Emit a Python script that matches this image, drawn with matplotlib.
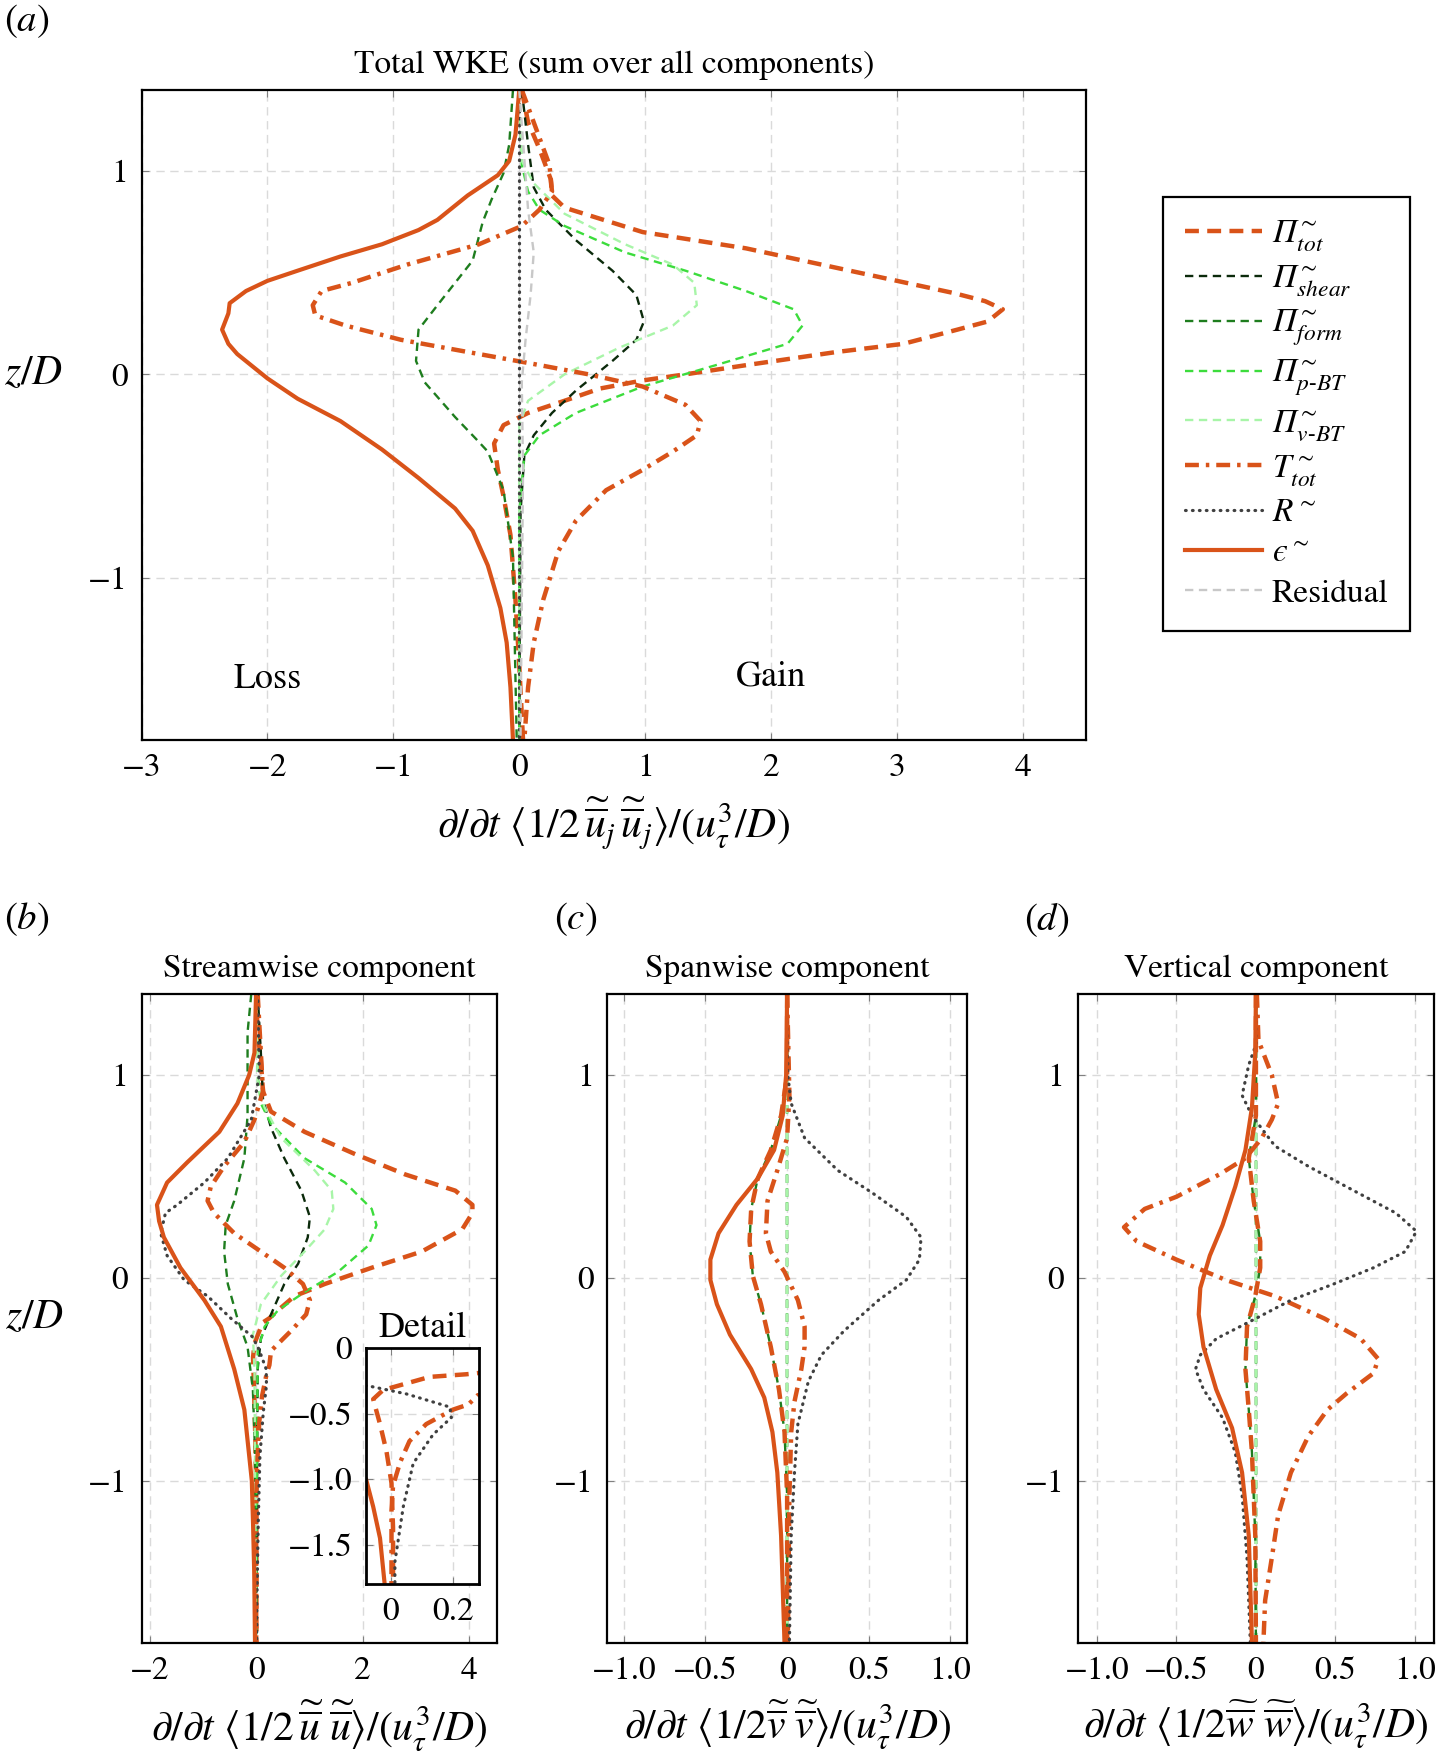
import matplotlib
matplotlib.use("Agg")
import matplotlib.pyplot as plt

plt.rcParams.update({
    "font.family": ["STIXGeneral", "Liberation Serif", "DejaVu Serif"],
    "mathtext.fontset": "stix",
    "font.size": 24,
    "axes.linewidth": 1.6,
    "lines.scale_dashes": False,
    "xtick.direction": "in",
    "ytick.direction": "in",
    "xtick.top": True,
    "ytick.right": True,
    "xtick.major.size": 5,
    "ytick.major.size": 5,
    "xtick.major.pad": 10,
    "ytick.major.pad": 10,
    "xtick.labelsize": 24,
    "ytick.labelsize": 24,
    "xtick.color": "#808080",
    "ytick.color": "#808080",
    "xtick.labelcolor": "black",
    "ytick.labelcolor": "black",
})

ORANGE = "#D95319"
SHEAR = "#0B2A0B"
FORM = "#1E7D1E"
PBT = "#3CDC3C"
VBT = "#A8F5A8"
RCOL = "#404040"
RESID = "#C8C8C8"

# ---------------- panel (a): total ----------------
a_pitot_z = [1.40, 1.24, 1.11, 0.96, 0.88, 0.82, 0.70, 0.62, 0.54, 0.46, 0.40, 0.36, 0.32,
             0.26, 0.22, 0.15, 0.11, 0.045, 0.0, -0.03, -0.07, -0.13, -0.19, -0.25, -0.34,
             -0.47, -0.60, -0.79, -1.11, -1.43, -1.80]
a_pitot_x = [0.02, 0.07, 0.16, 0.25, 0.26, 0.36, 0.98, 1.80, 2.40, 3.00, 3.45, 3.70, 3.84,
             3.72, 3.48, 3.05, 2.52, 1.80, 1.32, 0.98, 0.64, 0.36, 0.07, -0.125, -0.20,
             -0.17, -0.125, -0.07, -0.03, 0.0, 0.03]
a_shear_z = [1.40, 1.13, 0.92, 0.81, 0.66, 0.51, 0.39, 0.26, 0.17, 0.066, -0.08, -0.19, -0.30,
             -0.40, -0.68, -1.80]
a_shear_x = [0.02, 0.07, 0.115, 0.21, 0.45, 0.74, 0.93, 0.99, 0.93, 0.74, 0.45, 0.26, 0.115,
             0.04, 0.01, 0.0]
a_form_z = [1.40, 1.13, 0.99, 0.86, 0.75, 0.56, 0.34, 0.22, 0.066, -0.04, -0.21, -0.32, -0.38,
            -0.57, -0.90, -1.80]
a_form_x = [-0.05, -0.08, -0.125, -0.22, -0.29, -0.37, -0.65, -0.80, -0.82, -0.75, -0.51, -0.34,
            -0.25, -0.125, -0.05, -0.02]
a_pbt_z = [1.40, 1.03, 0.90, 0.81, 0.73, 0.60, 0.51, 0.41, 0.32, 0.24, 0.15, 0.045, -0.06,
           -0.19, -0.30, -0.40, -0.68, -1.80]
a_pbt_x = [0.0, 0.02, 0.07, 0.16, 0.36, 0.84, 1.32, 1.80, 2.18, 2.25, 2.13, 1.56, 0.98,
           0.45, 0.16, 0.04, 0.0, 0.0]
a_vbt_z = [1.40, 1.05, 0.94, 0.79, 0.64, 0.54, 0.45, 0.34, 0.24, 0.13, 0.0, -0.13, -0.25, -1.80]
a_vbt_x = [0.0, 0.02, 0.115, 0.36, 0.84, 1.22, 1.39, 1.41, 1.22, 0.79, 0.36, 0.07, 0.0, 0.0]
a_ttot_z = [1.40, 1.24, 1.03, 0.90, 0.81, 0.73, 0.64, 0.54, 0.45, 0.41, 0.34, 0.29, 0.24, 0.17,
            0.11, 0.056, 0.0, -0.06, -0.15, -0.23, -0.30, -0.38, -0.47, -0.57, -0.72, -0.87,
            -1.11, -1.32, -1.54, -1.80]
a_ttot_x = [0.02, 0.115, 0.24, 0.26, 0.16, 0.02, -0.32, -0.89, -1.33, -1.57, -1.64, -1.62, -1.38,
            -0.94, -0.41, 0.07, 0.55, 0.98, 1.32, 1.44, 1.41, 1.22, 0.98, 0.69, 0.45, 0.31,
            0.19, 0.115, 0.07, 0.04]
a_r_z = [1.40, 0.80, 0.0, -0.80, -1.80]
a_r_x = [0.0, 0.0, 0.0, 0.0, 0.0]
a_eps_z = [1.40, 1.18, 1.05, 0.98, 0.88, 0.76, 0.71, 0.64, 0.58, 0.51, 0.46, 0.41, 0.35, 0.30,
           0.22, 0.15, 0.10, -0.02, -0.12, -0.23, -0.37, -0.51, -0.66, -0.77, -0.94, -1.15,
           -1.32, -1.54, -1.80]
a_eps_x = [0.0, -0.03, -0.08, -0.17, -0.41, -0.65, -0.80, -1.09, -1.42, -1.76, -2.00, -2.17,
           -2.30, -2.31, -2.36, -2.31, -2.24, -2.00, -1.76, -1.42, -1.09, -0.80, -0.51, -0.37,
           -0.25, -0.15, -0.10, -0.07, -0.05]
a_res_z = [1.40, 0.81, 0.60, 0.39, 0.17, -0.04, -0.47, -1.80]
a_res_x = [0.0, 0.07, 0.115, 0.09, 0.05, 0.02, 0.03, 0.01]

# ---------------- panel (b): streamwise ----------------
b_pitot_z = [1.40, 1.21, 1.07, 0.92, 0.82, 0.72, 0.61, 0.51, 0.43, 0.36, 0.32, 0.24, 0.13, 0.05,
             -0.03, -0.09, -0.16, -0.20, -0.22, -0.32, -0.39, -0.58, -0.79, -1.03, -1.37, -1.80]
b_pitot_x = [0.0, 0.03, 0.09, 0.13, 0.28, 0.91, 1.86, 2.80, 3.74, 4.06, 4.06, 3.87, 3.11, 2.17,
             1.29, 0.72, 0.41, 0.243, 0.125, -0.025, -0.057, -0.035, -0.014, 0.002, 0.007, 0.007]
b_shear_z = [1.40, 1.11, 0.88, 0.74, 0.59, 0.43, 0.30, 0.20, 0.07, -0.03, -0.18, -0.30, -0.45,
             -1.80]
b_shear_x = [0.03, 0.09, 0.13, 0.28, 0.53, 0.85, 1.01, 0.97, 0.79, 0.53, 0.28, 0.09, 0.03, 0.0]
b_form_z = [1.40, 1.21, 1.00, 0.80, 0.59, 0.38, 0.26, 0.13, -0.03, -0.20, -0.34, -0.55, -0.86,
            -1.80]
b_form_x = [-0.09, -0.16, -0.16, -0.16, -0.22, -0.41, -0.57, -0.60, -0.53, -0.35, -0.16, -0.06,
            -0.02, 0.0]
b_pbt_z = [1.40, 1.00, 0.86, 0.76, 0.59, 0.47, 0.34, 0.26, 0.16, 0.03, -0.07, -0.16, -0.24,
           -0.36, -1.80]
b_pbt_x = [0.0, 0.03, 0.09, 0.28, 0.91, 1.67, 2.17, 2.26, 2.11, 1.54, 0.91, 0.41, 0.16, 0.03,
           0.0]
b_vbt_z = [1.40, 0.96, 0.84, 0.69, 0.53, 0.43, 0.34, 0.24, 0.13, 0.01, -0.13, -0.28, -0.45,
           -1.80]
b_vbt_x = [0.0, 0.03, 0.16, 0.47, 1.10, 1.42, 1.45, 1.29, 0.91, 0.47, 0.09, -0.06, -0.03, 0.0]
b_ttot_z = [1.40, 1.11, 0.92, 0.78, 0.67, 0.55, 0.45, 0.38, 0.32, 0.22, 0.13, 0.05, -0.03,
            -0.11, -0.18, -0.26, -0.36, -0.43, -0.47, -0.58, -0.71, -0.87, -1.05, -1.24, -1.80]
b_ttot_x = [0.03, 0.09, 0.13, -0.03, -0.22, -0.60, -0.85, -0.91, -0.79, -0.41, 0.09, 0.53, 0.88,
            1.01, 0.94, 0.66, 0.28, 0.25, 0.20, 0.114, 0.06, 0.03, 0.007, 0.002, 0.002]
b_r_z = [1.40, 1.00, 0.78, 0.59, 0.47, 0.36, 0.32, 0.22, 0.11, -0.01, -0.09, -0.20, -0.29,
         -0.35, -0.45, -0.53, -0.66, -0.88, -1.21, -1.63, -1.80]
b_r_x = [0.03, 0.06, -0.09, -0.53, -0.97, -1.48, -1.70, -1.79, -1.67, -1.35, -0.91, -0.47,
         -0.07, 0.05, 0.19, 0.195, 0.136, 0.072, 0.04, 0.013, 0.013]
b_eps_z = [1.40, 1.11, 1.00, 0.86, 0.72, 0.57, 0.47, 0.36, 0.28, 0.20, 0.05, -0.11, -0.24,
           -0.45, -0.65, -1.00, -1.21, -1.45, -1.80]
b_eps_x = [0.0, -0.03, -0.13, -0.35, -0.69, -1.29, -1.67, -1.86, -1.82, -1.73, -1.42, -0.97,
           -0.66, -0.41, -0.22, -0.08, -0.057, -0.035, -0.02]

# ---------------- panel (c): spanwise ----------------
c_pitot_z = [1.40, 1.00, 0.80, 0.63, 0.49, 0.34, 0.18, 0.01, -0.13, -0.34, -0.55, -0.76, -1.07,
             -1.80]
c_pitot_x = [0.0, 0.0, -0.037, -0.10, -0.18, -0.22, -0.23, -0.21, -0.16, -0.10, -0.05, -0.016,
             0.0, 0.0]
c_zero_z = [1.40, 0.0, -1.80]
c_zero_x = [0.0, 0.0, 0.0]
c_ttot_z = [1.40, 0.90, 0.69, 0.53, 0.38, 0.22, 0.13, 0.03, -0.11, -0.24, -0.34, -0.45, -0.61,
            -0.76, -1.07, -1.80]
c_ttot_x = [0.0, 0.014, 0.0, -0.06, -0.12, -0.13, -0.10, -0.016, 0.066, 0.107, 0.107, 0.087,
            0.045, 0.025, 0.014, 0.004]
c_r_z = [1.40, 1.00, 0.86, 0.69, 0.53, 0.42, 0.30, 0.20, 0.09, -0.01, -0.11, -0.26, -0.38,
         -0.51, -0.72, -0.96, -1.27, -1.80]
c_r_x = [0.0, 0.004, 0.025, 0.107, 0.31, 0.52, 0.73, 0.82, 0.81, 0.73, 0.56, 0.35, 0.21, 0.13,
         0.066, 0.045, 0.025, 0.014]
c_eps_z = [1.40, 1.00, 0.80, 0.63, 0.49, 0.36, 0.22, 0.09, -0.01, -0.13, -0.28, -0.45, -0.59,
           -0.76, -0.96, -1.27, -1.80]
c_eps_x = [0.0, -0.006, -0.027, -0.08, -0.18, -0.31, -0.42, -0.47, -0.47, -0.43, -0.35, -0.22,
           -0.14, -0.09, -0.06, -0.037, -0.016]

# ---------------- panel (d): vertical ----------------
d_pitot_z = [1.40, 0.80, 0.59, 0.38, 0.18, 0.05, -0.09, -0.24, -0.45, -0.65, -0.86, -1.27, -1.80]
d_pitot_x = [0.0, 0.0, -0.045, -0.014, 0.027, 0.027, -0.004, -0.056, -0.066, -0.045, -0.025,
             -0.004, 0.0]
d_zero_z = [1.40, 0.0, -1.80]
d_zero_x = [0.0, 0.0, 0.0]
d_ttot_z = [1.40, 1.17, 1.00, 0.86, 0.78, 0.69, 0.59, 0.51, 0.40, 0.34, 0.25, 0.18, 0.09, -0.01,
            -0.09, -0.20, -0.30, -0.40, -0.47, -0.57, -0.65, -0.78, -0.96, -1.17, -1.38, -1.59,
            -1.80]
d_ttot_x = [0.006, 0.016, 0.10, 0.14, 0.10, 0.037, -0.066, -0.23, -0.50, -0.70, -0.83, -0.75,
            -0.50, -0.19, 0.12, 0.43, 0.66, 0.77, 0.74, 0.57, 0.45, 0.33, 0.22, 0.14, 0.10,
            0.058, 0.047]
d_r_z = [1.40, 1.15, 1.05, 0.90, 0.80, 0.65, 0.55, 0.42, 0.32, 0.23, 0.13, 0.05, -0.03, -0.11,
         -0.20, -0.30, -0.38, -0.45, -0.55, -0.69, -0.86, -1.07, -1.38, -1.80]
d_r_x = [0.0, 0.0, -0.045, -0.087, -0.025, 0.12, 0.33, 0.64, 0.88, 1.01, 0.94, 0.74, 0.49, 0.22,
         0.0, -0.25, -0.35, -0.38, -0.33, -0.21, -0.13, -0.087, -0.056, -0.035]
d_eps_z = [1.40, 1.11, 0.84, 0.63, 0.45, 0.26, 0.11, -0.05, -0.18, -0.34, -0.55, -0.74, -0.96,
           -1.27, -1.80]
d_eps_x = [0.0, -0.004, -0.025, -0.066, -0.13, -0.21, -0.29, -0.35, -0.36, -0.33, -0.25, -0.15,
           -0.087, -0.045, -0.025]

# ---------------- styles ----------------
ST_PITOT = dict(color=ORANGE, lw=3.2, ls=(0, (10, 6)))
ST_SHEAR = dict(color=SHEAR, lw=1.7, ls=(0, (6, 4)))
ST_FORM = dict(color=FORM, lw=1.7, ls=(0, (6, 4)))
ST_PBT = dict(color=PBT, lw=1.7, ls=(0, (6, 4)))
ST_VBT = dict(color=VBT, lw=1.7, ls=(0, (6, 4)))
ST_TTOT = dict(color=ORANGE, lw=3.2, ls=(0, (10, 5, 2.5, 5)))
ST_R = dict(color=RCOL, lw=2.3, ls=(0, (0.5, 4.5)), dash_capstyle="round")
ST_EPS = dict(color=ORANGE, lw=3.0, ls="-")
ST_RES = dict(color=RESID, lw=1.7, ls=(0, (6, 4)))


def style_axes(ax, xlim, xticks, xlabels):
    ax.set_xlim(*xlim)
    ax.set_ylim(-1.8, 1.4)
    ax.set_xticks(xticks)
    ax.set_xticklabels(xlabels)
    ax.set_yticks([-1, 0, 1])
    ax.set_yticklabels(["\u22121", "0", "1"])
    ax.grid(True, color="#DADADA", ls=(0, (6, 4)), lw=1.0)
    ax.set_axisbelow(True)


fig = plt.figure(figsize=(14.44, 17.61), dpi=100)

# panel a
ax = fig.add_axes([0.098, 0.5797, 0.654, 0.3693])
ax.plot(a_pitot_x, a_pitot_z, label="\u03a0$^{\\sim}_{tot}$", **ST_PITOT)
ax.plot(a_shear_x, a_shear_z, label="\u03a0$^{\\sim}_{shear}$", **ST_SHEAR)
ax.plot(a_form_x, a_form_z, label="\u03a0$^{\\sim}_{form}$", **ST_FORM)
ax.plot(a_pbt_x, a_pbt_z, label="\u03a0$^{\\sim}_{p\\text{-}BT}$", **ST_PBT)
ax.plot(a_vbt_x, a_vbt_z, label="\u03a0$^{\\sim}_{v\\text{-}BT}$", **ST_VBT)
ax.plot(a_ttot_x, a_ttot_z, label=r"$T^{\sim}_{tot}$", **ST_TTOT)
ax.plot(a_r_x, a_r_z, label=r"$R^{\sim}$", **ST_R)
ax.plot(a_eps_x, a_eps_z, label="$\u03f5^{\\sim}$", **ST_EPS)
ax.plot(a_res_x, a_res_z, label="Residual", **ST_RES)
style_axes(ax, (-3, 4.5), [-3, -2, -1, 0, 1, 2, 3, 4],
           ["\u22123", "\u22122", "\u22121", "0", "1", "2", "3", "4"])
ax.set_title("Total WKE (sum over all components)", fontsize=24, pad=12)
ax.set_ylabel(r"$z/D$", fontsize=30, rotation=0, va="center", ha="center")
ax.yaxis.set_label_coords(-0.114, 0.5625)
ax.set_xlabel(r"$\partial/\partial t\ \langle 1/2\,\widetilde{\overline{u}}_j\,\widetilde{\overline{u}}_j\rangle/(u_\tau^3/D)$",
              fontsize=30, labelpad=8)
ax.text(-2.0, -1.5, "Loss", fontsize=26, ha="center", va="center")
ax.text(2.0, -1.49, "Gain", fontsize=26, ha="center", va="center")
handles, labels = ax.get_legend_handles_labels()
leg = fig.legend(handles, labels, loc="upper left", bbox_to_anchor=(0.8056, 0.8884),
                 borderaxespad=0, fontsize=24, frameon=True, fancybox=False,
                 edgecolor="black", framealpha=1, handlelength=2.3, labelspacing=0.3,
                 borderpad=0.65, handletextpad=0.3)
leg.get_frame().set_linewidth(1.6)
for t in leg.get_texts()[:5]:
    t.set_fontstyle("italic")

# panel b
ax = fig.add_axes([0.098, 0.067, 0.2465, 0.3686])
ax.plot(b_pitot_x, b_pitot_z, **ST_PITOT)
ax.plot(b_shear_x, b_shear_z, **ST_SHEAR)
ax.plot(b_form_x, b_form_z, **ST_FORM)
ax.plot(b_pbt_x, b_pbt_z, **ST_PBT)
ax.plot(b_vbt_x, b_vbt_z, **ST_VBT)
ax.plot(b_ttot_x, b_ttot_z, **ST_TTOT)
ax.plot(b_r_x, b_r_z, **ST_R)
ax.plot(b_eps_x, b_eps_z, **ST_EPS)
style_axes(ax, (-2.15, 4.53), [-2, 0, 2, 4], ["\u22122", "0", "2", "4"])
ax.set_title("Streamwise component", fontsize=24, pad=12)
ax.set_ylabel(r"$z/D$", fontsize=30, rotation=0, va="center", ha="center")
ax.yaxis.set_label_coords(-0.30, 0.5)
ax.set_xlabel(r"$\partial/\partial t\ \langle 1/2\,\widetilde{\overline{u}}\ \widetilde{\overline{u}}\rangle/(u_\tau^3/D)$",
              fontsize=30, labelpad=8)

# inset in b
ins = fig.add_axes([0.2535, 0.1005, 0.0782, 0.134])
ins.plot(b_pitot_x, b_pitot_z, **ST_PITOT)
ins.plot(b_ttot_x, b_ttot_z, **ST_TTOT)
ins.plot(b_r_x, b_r_z, **ST_R)
ins.plot(b_eps_x, b_eps_z, **ST_EPS)
ins.set_xlim(-0.08, 0.284)
ins.set_ylim(-1.8, 0)
ins.set_xticks([0, 0.2])
ins.set_xticklabels(["0", "0.2"])
ins.set_yticks([0, -0.5, -1.0, -1.5])
ins.set_yticklabels(["0", "\u22120.5", "\u22121.0", "\u22121.5"])
ins.tick_params(labelsize=24)
ins.grid(True, color="#DADADA", ls=(0, (6, 4)), lw=1.0)
ins.set_axisbelow(True)
for s in ins.spines.values():
    s.set_linewidth(2.0)
ins.set_title("Detail", fontsize=26, pad=8)

# panel c
ax = fig.add_axes([0.4207, 0.067, 0.2488, 0.3686])
ax.plot(c_zero_x, c_zero_z, **ST_SHEAR)
ax.plot(c_zero_x, c_zero_z, **ST_PBT)
ax.plot(c_zero_x, c_zero_z, **ST_VBT)
ax.plot(c_pitot_x, c_pitot_z, **ST_FORM)
ax.plot(c_pitot_x, c_pitot_z, **ST_PITOT)
ax.plot(c_ttot_x, c_ttot_z, **ST_TTOT)
ax.plot(c_r_x, c_r_z, **ST_R)
ax.plot(c_eps_x, c_eps_z, **ST_EPS)
style_axes(ax, (-1.1, 1.1), [-1.0, -0.5, 0, 0.5, 1.0],
           ["\u22121.0", "\u22120.5", "0", "0.5", "1.0"])
ax.set_title("Spanwise component", fontsize=24, pad=12)
ax.set_xlabel(r"$\partial/\partial t\ \langle 1/2\widetilde{\overline{v}}\ \widetilde{\overline{v}}\rangle/(u_\tau^3/D)$",
              fontsize=30, labelpad=8)

# panel d
ax = fig.add_axes([0.7465, 0.067, 0.2465, 0.3686])
ax.plot(d_zero_x, d_zero_z, **ST_SHEAR)
ax.plot(d_zero_x, d_zero_z, **ST_PBT)
ax.plot(d_zero_x, d_zero_z, **ST_VBT)
ax.plot(d_pitot_x, d_pitot_z, **ST_FORM)
ax.plot(d_pitot_x, d_pitot_z, **ST_PITOT)
ax.plot(d_ttot_x, d_ttot_z, **ST_TTOT)
ax.plot(d_r_x, d_r_z, **ST_R)
ax.plot(d_eps_x, d_eps_z, **ST_EPS)
style_axes(ax, (-1.12, 1.12), [-1.0, -0.5, 0, 0.5, 1.0],
           ["\u22121.0", "\u22120.5", "0", "0.5", "1.0"])
ax.set_title("Vertical component", fontsize=24, pad=12)
ax.set_xlabel(r"$\partial/\partial t\ \langle 1/2\widetilde{\overline{w}}\ \widetilde{\overline{w}}\rangle/(u_\tau^3/D)$",
              fontsize=30, labelpad=8)

# panel letters
fig.text(0.003, 0.988, r"$(a)$", fontsize=28, ha="left", va="center")
fig.text(0.003, 0.478, r"$(b)$", fontsize=28, ha="left", va="center")
fig.text(0.384, 0.478, r"$(c)$", fontsize=28, ha="left", va="center")
fig.text(0.709, 0.478, r"$(d)$", fontsize=28, ha="left", va="center")

fig.savefig("out.png", dpi=100)
